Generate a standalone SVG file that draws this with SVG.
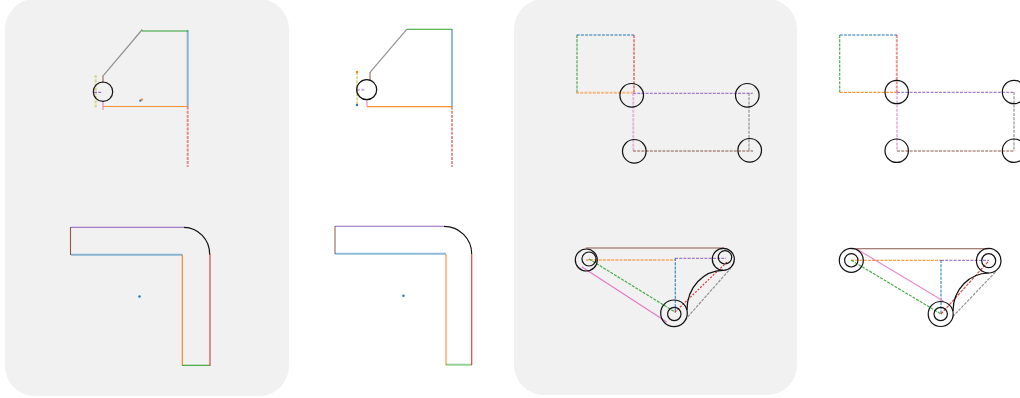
<svg xmlns="http://www.w3.org/2000/svg" width="1020" height="398" viewBox="0 0 1020 398">
<style>
.bg{fill:#f1f1f1;stroke:none}
.k{fill:none;stroke:#111;stroke-width:1.2}
line{fill:none;stroke-width:1.1}
.t{stroke-width:2;stroke-opacity:.5}
.m{stroke-width:1.2;stroke-opacity:.85}
.d{stroke-dasharray:3 1.2}
.b{stroke:#1f77b4}.o{stroke:#ff7f0e}.g{stroke:#2ca02c}.r{stroke:#d62728}.p{stroke:#9467bd}.n{stroke:#8c564b}.i{stroke:#e377c2}.y{stroke:#7f7f7f}.l{stroke:#bcbd22}
.db{fill:#1f77b4}.do{fill:#ff7f0e}
</style>
<rect class="bg" x="5" y="-1" width="284" height="397" rx="30"/>
<rect class="bg" x="514" y="-1" width="283" height="396" rx="30"/>
<g id="connectors">
<!-- panel 1 top -->
<line class="g" x1="142" y1="31" x2="188" y2="31"/>
<line class="b t" x1="187.7" y1="30" x2="187.7" y2="106.5"/>
<line class="r t d" x1="187.7" y1="106.5" x2="187.7" y2="167"/>
<line class="o m" x1="103" y1="106.5" x2="187.7" y2="106.5"/>
<line class="y m" x1="142.3" y1="29.5" x2="103.3" y2="75.7"/>
<line class="n t" x1="103" y1="75.5" x2="103" y2="83"/>
<line class="i t" x1="103" y1="101.7" x2="103" y2="110"/>
<line class="l t d" x1="95.7" y1="75" x2="95.7" y2="108"/>
<line class="p m d" x1="94" y1="92.3" x2="102" y2="92.3"/>
<circle class="db" cx="140.3" cy="100.7" r="1.1"/>
<circle class="do" cx="142" cy="99.7" r="1.1"/>
<!-- panel 2 top -->
<line class="g" x1="406.7" y1="29.3" x2="452" y2="29.3"/>
<line class="b t" x1="452" y1="29" x2="452" y2="106.5"/>
<line class="r t d" x1="452" y1="106.5" x2="452" y2="167"/>
<line class="o m" x1="367" y1="106.7" x2="452" y2="106.7"/>
<line class="y m" x1="406.7" y1="29.3" x2="370" y2="72.3"/>
<line class="n t" x1="370" y1="72" x2="370" y2="81"/>
<line class="i t" x1="367" y1="99" x2="367" y2="106.7"/>
<line class="l t d" x1="357" y1="72" x2="357" y2="105"/>
<line class="p t d" x1="357" y1="89.7" x2="365" y2="89.7"/>
<circle class="do" cx="357" cy="72" r="1.2"/>
<circle class="db" cx="357" cy="105" r="1.2"/>
<!-- panel 3 top -->
<line class="b t d" x1="576.7" y1="35" x2="634" y2="35"/>
<line class="g t d" x1="577" y1="35" x2="577" y2="93"/>
<line class="r t d" x1="634" y1="35" x2="634" y2="93"/>
<line class="o t d" x1="576" y1="92.7" x2="633" y2="92.7"/>
<line class="p m d" x1="633" y1="93.3" x2="752.7" y2="93.3"/>
<line class="y t d" x1="749" y1="93" x2="749" y2="151"/>
<line class="i t d" x1="633.3" y1="93" x2="633.3" y2="151"/>
<line class="n t d" x1="633" y1="151" x2="753" y2="151"/>
<!-- panel 4 top -->
<line class="b t d" x1="839.7" y1="35" x2="897" y2="35"/>
<line class="g m d" x1="839.7" y1="35" x2="839.7" y2="92.3"/>
<line class="r t d" x1="896.8" y1="35" x2="896.8" y2="92.3"/>
<line class="o m d" x1="839.7" y1="92.3" x2="897" y2="92.3"/>
<line class="p m d" x1="897" y1="92.3" x2="1014" y2="92.3"/>
<line class="y t d" x1="1014" y1="92" x2="1014" y2="151"/>
<line class="i t d" x1="897" y1="92" x2="897" y2="151"/>
<line class="n t d" x1="897" y1="151" x2="1014" y2="151"/>
<!-- panel 1 bottom -->
<line class="p m" x1="71" y1="227.3" x2="184" y2="227.3"/>
<line class="n" x1="70.5" y1="227" x2="70.5" y2="255"/>
<line class="b t" x1="71" y1="254.7" x2="182.5" y2="254.7"/>
<line class="o" x1="182.3" y1="254.7" x2="182.3" y2="365.3"/>
<line class="g" x1="182" y1="365.3" x2="210" y2="365.3"/>
<line class="r t" x1="210" y1="254" x2="210" y2="366"/>
<circle class="db" cx="139.5" cy="296.5" r="1.2"/>
<!-- panel 2 bottom -->
<line class="p" x1="335" y1="226.3" x2="444" y2="226.3"/>
<line class="n t" x1="335" y1="226" x2="335" y2="254"/>
<line class="b t" x1="335" y1="253.7" x2="446" y2="253.7"/>
<line class="o t" x1="446" y1="254" x2="446" y2="365"/>
<line class="g t" x1="446" y1="364.7" x2="472" y2="364.7"/>
<line class="r m" x1="471.7" y1="254" x2="471.7" y2="365"/>
<circle class="db" cx="403.5" cy="295.7" r="1.2"/>
<!-- panel 3 bottom -->
<line class="n t" x1="586" y1="248" x2="724" y2="248"/>
<line class="o t d" x1="586" y1="260" x2="675" y2="260"/>
<line class="p m d" x1="675" y1="258.3" x2="726" y2="258.3"/>
<line class="b m d" x1="675.3" y1="258" x2="675.3" y2="313"/>
<line class="g m d" x1="589" y1="259" x2="675" y2="312"/>
<line class="i" x1="581.7" y1="266.7" x2="666.7" y2="322"/>
<line class="r" x1="675" y1="312" x2="727.3" y2="261.7" stroke-dasharray="2 1.5"/>
<line class="y m d" x1="685" y1="320" x2="730.7" y2="268.3"/>
<!-- panel 4 bottom -->
<line class="n" x1="851" y1="248.7" x2="989" y2="248.7"/>
<line class="o d" x1="851" y1="260.3" x2="941" y2="260.3"/>
<line class="p m d" x1="941" y1="260.3" x2="989" y2="260.3"/>
<line class="b t d" x1="941" y1="260" x2="941" y2="314"/>
<line class="g m d" x1="851.3" y1="260.3" x2="941" y2="314"/>
<line class="i m" x1="856.7" y1="249" x2="943.3" y2="301"/>
<line class="r m d" x1="941" y1="314" x2="989" y2="260.7"/>
<line class="y m d" x1="952.7" y1="316.7" x2="995.7" y2="271.7"/>
</g>
<g id="node-a1"><circle class="k" cx="103" cy="91.7" r="9.7"/></g>
<g id="node-a2"><circle class="k" cx="366.7" cy="89.7" r="10"/></g>
<g id="node-b1"><path class="k" d="M184 227.3A26 27 0 0 1 209.7 254.5"/></g>
<g id="node-b2"><path class="k" d="M444 226.3A27.7 27.7 0 0 1 471.7 254"/></g>
<g id="node-c1"><circle class="k" cx="631.7" cy="95.3" r="11.8"/></g>
<g id="node-c2"><circle class="k" cx="747.3" cy="95.3" r="11.8"/></g>
<g id="node-c3"><circle class="k" cx="634.3" cy="151.3" r="11.8"/></g>
<g id="node-c4"><circle class="k" cx="749.7" cy="150.3" r="11.8"/></g>
<g id="node-d1"><circle class="k" cx="896.7" cy="92" r="11.7"/></g>
<g id="node-d2"><circle class="k" cx="1014" cy="92" r="11.7"/></g>
<g id="node-d3"><circle class="k" cx="896.7" cy="150.7" r="11.7"/></g>
<g id="node-d4"><circle class="k" cx="1014" cy="150.7" r="11.7"/></g>
<g id="node-e1"><circle class="k" cx="586.3" cy="260" r="11"/><circle class="k" cx="589" cy="259" r="7"/></g>
<g id="node-e2"><circle class="k" cx="723.3" cy="259.3" r="11"/><circle class="k" cx="725" cy="257.3" r="6.7"/></g>
<g id="node-e3"><circle class="k" cx="674" cy="313.3" r="13.3"/><circle class="k" cx="674.3" cy="314" r="6.7"/><path class="k" d="M687 310C687 287 704 270.3 723 270.3"/></g>
<g id="node-f1"><circle class="k" cx="851.3" cy="260.3" r="12"/><circle class="k" cx="851.3" cy="260.3" r="6.7"/></g>
<g id="node-f2"><circle class="k" cx="988.7" cy="260.7" r="12.3"/><circle class="k" cx="988.7" cy="260.7" r="7"/></g>
<g id="node-f3"><circle class="k" cx="940.7" cy="314" r="12.5"/><circle class="k" cx="940.7" cy="314" r="6.7"/><path class="k" d="M953 311C953 289 970 273 988.7 273"/></g>
</svg>
